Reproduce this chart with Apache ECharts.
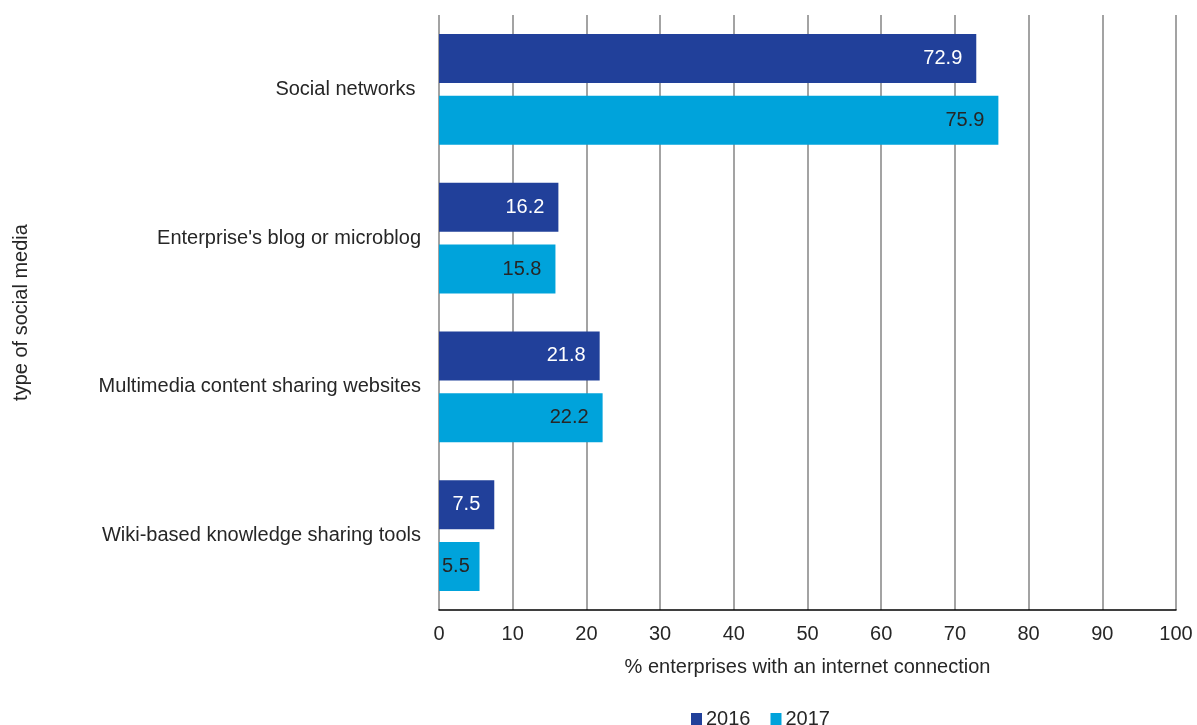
<!DOCTYPE html>
<html>
<head>
<meta charset="utf-8">
<script src="https://cdn.jsdelivr.net/npm/echarts@6/dist/echarts.min.js"></script>
<style>
  html, body { margin: 0; padding: 0; background: #fff; }
  #chart { width: 1197px; height: 725px; }
</style>
</head>
<body>
<div id="chart"></div>
<script>
// Social media types used by enterprises, 2016 vs 2017
const categories = [
  'Social networks ',
  "Enterprise's blog or microblog",
  'Multimedia content sharing websites',
  'Wiki-based knowledge sharing tools'
];
const values2016 = [72.9, 16.2, 21.8, 7.5];
const values2017 = [75.9, 15.8, 22.2, 5.5];
const seriesNames = ['2016', '2017'];

const FONT = '"Liberation Sans", Arial, sans-serif';
const TEXT = '#262626';
const FS = 20;

// Very short bars get their value label pinned to the start of the bar
function withLabels(values) {
  return values.map(v => v < 7
    ? { value: v, label: { position: 'insideLeft', distance: 3 } }
    : v);
}

const chart = echarts.init(document.getElementById('chart'));
chart.setOption({
  animation: false,
  textStyle: { fontFamily: FONT },
  grid: { left: 439, right: 21, top: 15, bottom: 115, containLabel: false },
  legend: {
    data: seriesNames,
    left: 686,
    top: 704,
    itemWidth: 11,
    itemHeight: 12,
    itemGap: 20,
    icon: 'rect',
    textStyle: { fontSize: FS, color: TEXT, fontFamily: FONT, padding: [0, 0, 0, -1] }
  },
  xAxis: {
    type: 'value',
    min: 0,
    max: 100,
    interval: 10,
    name: '% enterprises with an internet connection',
    nameLocation: 'middle',
    nameGap: 47,
    nameTextStyle: { fontSize: FS, color: TEXT, fontFamily: FONT },
    axisLine: { show: true, lineStyle: { color: '#000', width: 1.5 } },
    axisTick: { show: false },
    axisLabel: { fontSize: FS, color: TEXT, margin: 14, fontFamily: FONT },
    splitLine: { show: true, lineStyle: { color: '#858585', width: 1.5 } }
  },
  yAxis: {
    type: 'category',
    data: categories,
    inverse: true,
    name: 'type of social media',
    nameLocation: 'middle',
    nameGap: 408,
    nameRotate: 90,
    nameTextStyle: { fontSize: FS, color: TEXT, fontFamily: FONT },
    axisLine: { show: false },
    axisTick: { show: false },
    axisLabel: { fontSize: FS, color: TEXT, margin: 18, fontFamily: FONT }
  },
  series: [
    {
      name: seriesNames[0],
      type: 'bar',
      data: withLabels(values2016),
      barCategoryGap: '25.4%',
      barGap: '26.5%',
      itemStyle: { color: '#21409a' },
      label: {
        show: true,
        position: 'insideRight',
        distance: 14,
        color: '#ffffff',
        fontSize: FS,
        fontFamily: FONT
      }
    },
    {
      name: seriesNames[1],
      type: 'bar',
      data: withLabels(values2017),
      barCategoryGap: '25.4%',
      barGap: '26.5%',
      itemStyle: { color: '#00a3db' },
      label: {
        show: true,
        position: 'insideRight',
        distance: 14,
        color: TEXT,
        fontSize: FS,
        fontFamily: FONT
      }
    }
  ]
});
</script>
</body>
</html>
